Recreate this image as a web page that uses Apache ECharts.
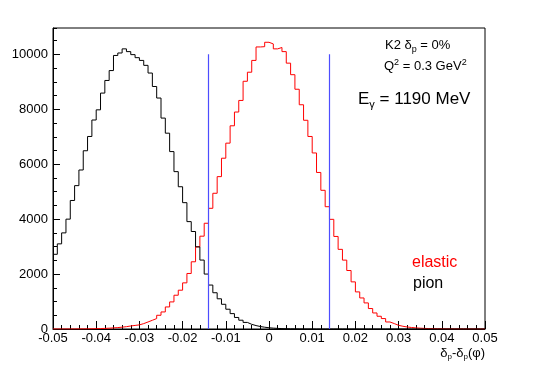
<!DOCTYPE html>
<html>
<head>
<meta charset="utf-8">
<script src="https://cdn.jsdelivr.net/npm/echarts@6/dist/echarts.min.js"></script>
<style>
  html, body { margin: 0; padding: 0; background: #fff; }
  #main-chart { width: 540px; height: 366px; }
</style>
</head>
<body>
<div id="main-chart"></div>
<script>
// histogram binning: 100 bins of 0.001 from -0.05 to 0.05
const BIN_LOW = -0.05
const BIN_WIDTH = 0.001

// pion counts per bin (black)
const pionCounts = [
  2720, 3100, 3500, 4000, 4680, 5220, 5790, 6490, 7010, 7610,
  7980, 8590, 9050, 9410, 9960, 10050, 10200, 10100, 9990, 9880,
  9780, 9600, 9320, 8830, 8410, 7680, 7130, 6460, 5730, 5180,
  4600, 3910, 3550, 2990, 2510, 2000, 1600, 1320, 1100, 900,
  720, 560, 420, 320, 240, 170, 125, 90, 65, 45,
  32, 22, 15, 10, 7, 5, 3, 2, 1, 1,
  0, 0, 0, 0, 0, 0, 0, 0, 0, 0,
  0, 0, 0, 0, 0, 0, 0, 0, 0, 0,
  0, 0, 0, 0, 0, 0, 0, 0, 0, 0,
  0, 0, 0, 0, 0, 0, 0, 0, 0, 0
]

// elastic counts per bin (red)
const elasticCounts = [
  0, 0, 1, 1, 2, 3, 4, 6, 8, 12,
  16, 22, 30, 40, 52, 66, 85, 110, 130, 150,
  196, 256, 318, 380, 500, 621, 803, 986, 1230, 1413,
  1680, 2022, 2447, 2993, 3380, 3850, 4395, 4942, 5548, 6219,
  6767, 7399, 7900, 8322, 9020, 9350, 9780, 10270, 10280, 10440,
  10380, 10200, 10250, 10100, 9680, 9260, 8730, 8165, 7600, 7010,
  6410, 5700, 5050, 4453, 3993, 3370, 2900, 2508, 2130, 1716,
  1351, 1130, 950, 745, 584, 464, 380, 256, 197, 135,
  99, 73, 55, 40, 30, 22, 16, 12, 9, 7,
  5, 4, 3, 2, 2, 1, 1, 0, 0, 0
]

// cut lines (blue)
const cutPositions = [-0.014, 0.014]
const cutHeight = 10000

const xTicks = [-0.05, 0.05, 0.01, 0.002]   // min, max, major, minor
const yTicks = [0, 10960, 2000, 500]

const FONT = 'Liberation Sans'
const CUT_COLOR = '#4d4dff'

// step histogram: one point per left bin edge, plus the closing right edge
const toSteps = counts => {
  const pts = counts.map((c, i) => [+(BIN_LOW + i * BIN_WIDTH).toFixed(4), c])
  pts.push([+(BIN_LOW + counts.length * BIN_WIDTH).toFixed(4), counts[counts.length - 1]])
  return pts
}

const fmtX = v => String(Number(v.toFixed(3)))

const chart = echarts.init(document.getElementById('main-chart'), null, { renderer: 'canvas' })

const txt = (size, lh, va, color) => ({ fontSize: size, lineHeight: lh, verticalAlign: va, fontFamily: FONT, color: color || '#000' })

// extra label-less axes that only draw the short minor ticks
const tickAxis = (t, tickLen, pos) => ({
  type: 'value', min: t[0], max: t[1], interval: t[3], position: pos,
  axisLine: { show: false, onZero: false },
  axisTick: { show: true, inside: true, length: tickLen, lineStyle: { color: '#000' } },
  axisLabel: { show: false },
  splitLine: { show: false }
})

const option = {
  animation: false,
  backgroundColor: '#fff',
  grid: {
    left: 53, right: 55, top: 28, bottom: 37,
    show: true, borderColor: '#000', borderWidth: 1, backgroundColor: 'transparent'
  },
  xAxis: [
    {
      type: 'value', min: xTicks[0], max: xTicks[1], interval: xTicks[2],
      axisLine: { show: true, onZero: false, lineStyle: { color: '#000', width: 1 } },
      axisTick: { show: true, inside: true, length: 8, lineStyle: { color: '#000' } },
      axisLabel: { fontSize: 13, fontFamily: FONT, color: '#000', margin: 3, formatter: fmtX },
      splitLine: { show: false }
    },
    tickAxis(xTicks, 4, 'bottom')
  ],
  yAxis: [
    {
      type: 'value', min: yTicks[0], max: yTicks[1], interval: yTicks[2],
      axisLine: { show: true, onZero: false, lineStyle: { color: '#000', width: 1 } },
      axisTick: { show: true, inside: true, length: 7, lineStyle: { color: '#000' } },
      axisLabel: { fontSize: 13, fontFamily: FONT, color: '#000', margin: 5, showMaxLabel: false, formatter: v => String(v) },
      splitLine: { show: false }
    },
    tickAxis(yTicks, 4, 'left')
  ],
  series: [
    {
      name: 'elastic', type: 'line', step: 'end', showSymbol: false, silent: true,
      data: toSteps(elasticCounts),
      lineStyle: { color: '#ff0000', width: 1 }
    },
    {
      name: 'pion', type: 'line', step: 'end', showSymbol: false, silent: true,
      data: toSteps(pionCounts),
      lineStyle: { color: '#000000', width: 1 },
      markLine: {
        silent: true, symbol: 'none', label: { show: false },
        lineStyle: { color: CUT_COLOR, width: 1.2, type: 'solid' },
        data: cutPositions.map(p => [{ coord: [p, 0] }, { coord: [p, cutHeight] }])
      }
    }
  ],
  graphic: [
    {
      type: 'text', x: 385, y: 37,
      style: {
        text: '{a|K2 δ}{s|p}{a| = 0%}', align: 'left', verticalAlign: 'top',
        rich: { a: txt(13, 17, 'middle'), s: txt(9, 9, 'bottom') }
      }
    },
    {
      type: 'text', x: 384, y: 58,
      style: {
        text: '{a|Q}{u|2}{a| = 0.3 GeV}{u|2}', align: 'left', verticalAlign: 'top',
        rich: { a: txt(13, 17, 'middle'), u: txt(9, 9, 'top') }
      }
    },
    {
      type: 'text', x: 358, y: 88,
      style: {
        text: '{a|E}{s|γ}{a| = 1190 MeV}', align: 'left', verticalAlign: 'top',
        rich: { a: txt(17, 22, 'middle'), s: txt(11, 11, 'bottom') }
      }
    },
    {
      type: 'text', x: 412, y: 263,
      style: { text: 'elastic', fontSize: 16, fontFamily: FONT, fill: '#ff0000', align: 'left', verticalAlign: 'middle' }
    },
    {
      type: 'text', x: 413, y: 284,
      style: { text: 'pion', fontSize: 16, fontFamily: FONT, fill: '#000', align: 'left', verticalAlign: 'middle' }
    },
    {
      type: 'text', x: 485, y: 345,
      style: {
        text: '{a|δ}{s|p}{a|-δ}{s|p}{a|(φ)}', align: 'right', verticalAlign: 'top',
        rich: { a: txt(13, 16, 'middle'), s: txt(8, 8, 'bottom') }
      }
    }
  ]
}

chart.setOption(option)
</script>
</body>
</html>
